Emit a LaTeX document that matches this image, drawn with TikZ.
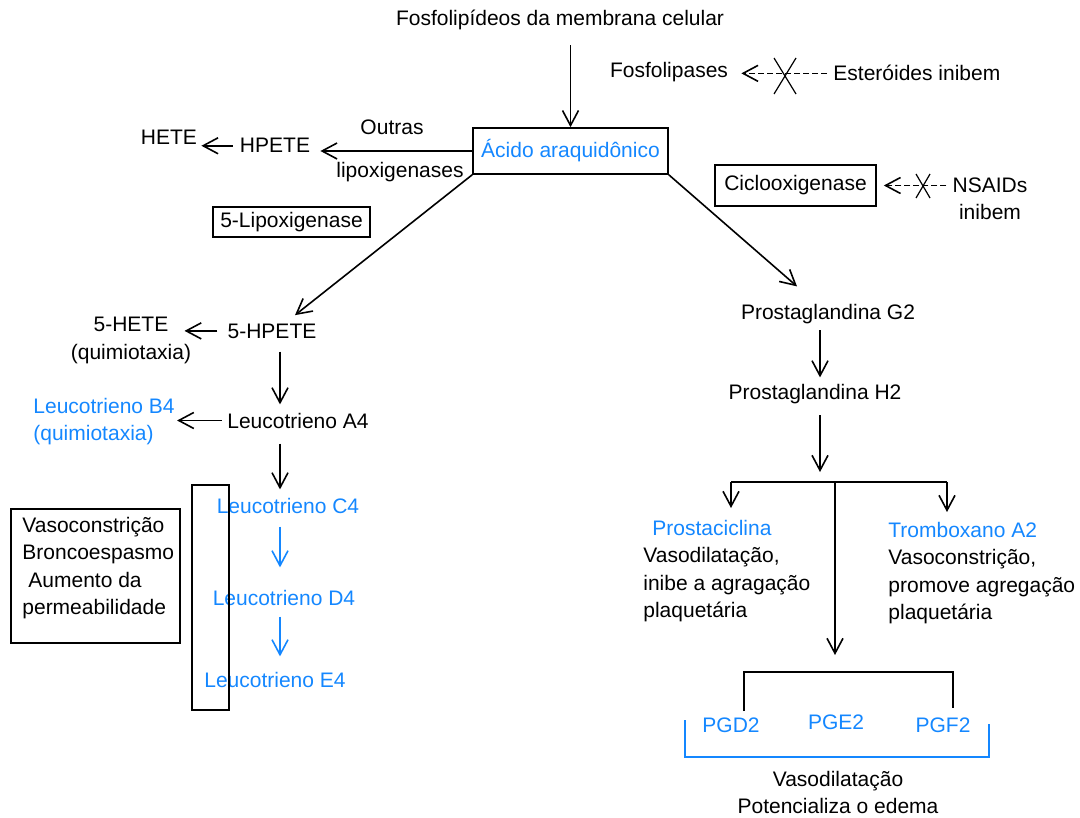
\documentclass[tikz,border=0pt]{standalone}
\usepackage{fontspec}
\setmainfont{Liberation Sans}
\usetikzlibrary{arrows.meta}

\definecolor{azul}{RGB}{20,135,255}

\tikzset{
  txt/.style={inner sep=0pt,font=\fontsize{10.5}{13.65}\selectfont},
  txtazul/.style={txt,text=azul},
  caixa/.style={txt,draw,line width=0.8pt},
  linha/.style={line width=0.8pt},
  seta/.style={linha,-{Straight Barb[length=7.5pt,width=8pt]}},
  tracejada/.style={seta,dash pattern=on 3pt off 1.5pt},
  xis/.style={line width=0.6pt}
}

\begin{document}
\begin{tikzpicture}[x=0.5pt,y=-0.5pt]
  \useasboundingbox (0,0) rectangle (1080,818);

  % topo
  \node [txt,anchor=base] (fosfo) at (560,26) {Fosfolipídeos da membrana celular};
  \node [caixa,text=azul,minimum width=97.5pt,minimum height=23pt] (acido) at (570.5,151) {Ácido araquidônico};
  \node [txt,anchor=base] (fosfolip) at (669,78) {Fosfolipases};
  \node [txt,anchor=base west] (esteroides) at (833,81) {Esteróides inibem};
  \node [caixa,minimum width=80.5pt,minimum height=20.5pt] (ciclo) at (795.5,185.5) {Ciclooxigenase};
  \node [txt,anchor=north,align=center] (nsaids) at (990,177) {NSAIDs\\inibem};

  \coordinate (corte1) at (785,76);
  \coordinate (corte2) at (923,186);

  \draw [tracejada,shorten <=3pt,shorten >=6.5pt] (esteroides.west) -- (esteroides.west -| fosfolip.east);
  \draw [xis] ([shift={(-11,-18)}]corte1) -- ([shift={(11,18)}]corte1);
  \draw [xis] ([shift={(11,-18)}]corte1) -- ([shift={(-11,18)}]corte1);
  \draw [tracejada,shorten <=3pt,shorten >=3.5pt] (nsaids.west |- ciclo.east) -- (ciclo.east);
  \draw [xis] ([shift={(-7,-12)}]corte2) -- ([shift={(7,12)}]corte2);
  \draw [xis] ([shift={(7,-12)}]corte2) -- ([shift={(-7,12)}]corte2);

  \draw [seta,shorten <=7.3pt] (acido.north |- fosfo.south) -- (acido.north);

  % lipoxigenases
  \node [txt,anchor=base] (hpete) at (275,153) {HPETE};
  \node [txt,anchor=base] (hete) at (169,145) {HETE};
  \node [txt,anchor=base] (outras) at (392,135) {Outras};
  \node [txt,anchor=base] (lipox) at (400,177) {lipoxigenases};
  \node [caixa,minimum width=78.5pt,minimum height=15pt] (lipox5) at (291.5,222) {5-Lipoxigenase};

  \draw [seta,shorten >=5pt] (acido.west) -- (acido.west -| hpete.east);
  \draw [seta,shorten <=3.5pt,shorten >=2pt] (hpete.west) -- (hpete.west -| hete.east);

  % leucotrienos
  \node [txt,anchor=base] (hpete5) at (272,338) {5-HPETE};
  \node [txt,anchor=north,align=center] (hete5) at (131,317) {5-HETE\\(quimiotaxia)};
  \node [txt,anchor=base] (lta4) at (298,428) {Leucotrieno A4};
  \node [txtazul,anchor=north west,align=left] (ltb4) at (33,398) {Leucotrieno B4\\(quimiotaxia)};
  \node [txtazul,anchor=base] (ltc4) at (288,513) {Leucotrieno C4};
  \node [txtazul,anchor=base] (ltd4) at (284,605) {Leucotrieno D4};
  \node [txtazul,anchor=base] (lte4) at (275,687) {Leucotrieno E4};
  \node [draw,linha,minimum width=18.5pt,minimum height=112.5pt] (faixa) at (210.5,597.5) {};
  \node [draw,linha,minimum width=84.5pt,minimum height=67pt] (caixaLT) at (95.5,576) {};
  \node [txt,anchor=north west,align=left] (efeitos) at (22,517) {Vasoconstrição\\Broncoespasmo\\\hspace*{3pt}Aumento da\\permeabilidade};

  \coordinate (colE) at (280,0);

  \draw [seta] (acido.south west) -- ([xshift=11.5pt,yshift=4pt]hpete5.north);
  \draw [seta,shorten <=5pt,shorten >=-3.5pt] (hpete5.west) -- (hpete5.west -| hete5.east);
  \draw [seta,shorten <=6.5pt,shorten >=4pt] (hpete5.south -| colE) -- (lta4.north -| colE);
  \draw [seta,shorten <=2.5pt,shorten >=1pt] (lta4.west) -- (lta4.west -| ltb4.east);
  \draw [seta,shorten <=7.5pt,shorten >=4pt] (lta4.south -| colE) -- (ltc4.north -| colE);
  \draw [seta,azul,shorten <=6.5pt,shorten >=11pt] (ltc4.south -| colE) -- (ltd4.north -| colE);
  \draw [seta,azul,shorten <=5.5pt,shorten >=7.5pt] (ltd4.south -| colE) -- (lte4.north -| colE);

  % prostaglandinas
  \node [txt,anchor=base] (g2) at (828,319) {Prostaglandina G2};
  \node [txt,anchor=base] (h2) at (815,399) {Prostaglandina H2};
  \node [txt,anchor=north west,align=left] (prosta) at (643,520) {\textcolor{azul}{\hspace*{4.5pt}Prostaciclina}\\Vasodilatação,\\inibe a agragação\\plaquetária};
  \node [txt,anchor=north west,align=left] (trombo) at (888,522) {\textcolor{azul}{Tromboxano A2}\\Vasoconstrição,\\promove agregação\\plaquetária};
  \node [txtazul,anchor=base] (pgd2) at (731,732) {PGD2};
  \node [txtazul,anchor=base] (pge2) at (836,729) {PGE2};
  \node [txtazul,anchor=base] (pgf2) at (943,732) {PGF2};
  \node [txt,anchor=north,align=center] (vasodil) at (838,771) {Vasodilatação\\Potencializa o edema};

  \coordinate (colD) at (820,0);
  \coordinate (ramo) at (820,472);
  \coordinate (tEsq) at (731,482);
  \coordinate (tMeio) at (835,482);
  \coordinate (tDir) at (947,482);
  \coordinate (pgTopo) at (835,655);
  \coordinate (chEsq) at (744,711);
  \coordinate (chDir) at (953,708);
  \coordinate (azEsq) at (685,720);
  \coordinate (azDir) at (989,724);

  \draw [seta] (acido.south east) -- ([xshift=-15.5pt,yshift=8.5pt]g2.north);
  \draw [seta,shorten <=3.3pt,shorten >=3pt] (g2.south -| colD) -- (h2.north -| colD);
  \draw [seta,shorten <=5.8pt] (h2.south -| colD) -- (ramo);
  \draw [linha] (tEsq) -- (tDir);
  \draw [seta,shorten >=6pt] (tEsq) -- (tEsq |- prosta.north);
  \draw [seta,shorten >=5pt] (tDir) -- (tDir |- trombo.north);
  \draw [seta] (tMeio) -- (pgTopo);
  \draw [linha] (chEsq) -- ++(0,-39) -| (chDir);
  \draw [linha,azul] (azEsq) -- ++(0,37) -| (azDir);
\end{tikzpicture}
\end{document}
